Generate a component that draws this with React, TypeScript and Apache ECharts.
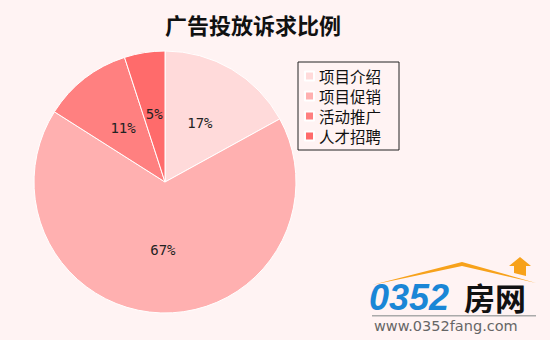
import React, { useEffect, useRef } from "react";
import * as echarts from "echarts";

const titleText = "广告投放诉求比例";
const categories = ["项目介绍", "项目促销", "活动推广", "人才招聘"];
const values = [17, 67, 11, 5];
const colors = ["#ffdada", "#ffb0b0", "#ff8080", "#ff6b6b"];

export default function App() {
  const ref = useRef<HTMLDivElement>(null);
  useEffect(() => {
    if (!ref.current) return;
    const chart = echarts.init(ref.current, null, { renderer: "svg" });
    const font = "'Noto Sans CJK SC', sans-serif";
    chart.setOption({
      animation: false,
      backgroundColor: "#fff3f3",
      title: {
        text: titleText,
        left: 160,
        top: 8,
        textStyle: { fontSize: 22, fontWeight: "bold", color: "#111", fontFamily: font },
      },
      legend: {
        orient: "vertical",
        left: 298,
        top: 62,
        data: categories,
        borderColor: "#222",
        borderWidth: 1,
        padding: [4, 18, 4, 6],
        itemWidth: 9,
        itemHeight: 9,
        itemGap: 0,
        icon: "rect",
        textStyle: { fontSize: 15.5, color: "#111", fontFamily: font, lineHeight: 20, padding: [0, 0, 0, 0] },
      },
      series: [
        {
          type: "pie",
          center: [165, 182],
          radius: 131,
          startAngle: 90,
          clockwise: true,
          color: colors,
          itemStyle: { borderColor: "#ffffff", borderWidth: 1 },
          label: {
            position: "inside",
            formatter: "{d}%",
            fontSize: 14,
            color: "#222",
            fontFamily: "'DejaVu Sans Mono', monospace",
          },
          labelLine: { show: false },
          emphasis: { disabled: true },
          data: categories.map((n, i) => ({ name: n, value: values[i] })),
        },
      ],
      graphic: [
        {
          type: "polygon",
          shape: { points: [[372, 285], [462, 262], [536, 283], [462, 266]] },
          style: { fill: "#f7a21b" },
        },
        {
          type: "polygon",
          shape: { points: [[514, 273], [514, 266], [509, 266], [520, 257], [531, 266], [526, 266], [526, 276]] },
          style: { fill: "#f7a21b" },
        },
        {
          type: "text",
          left: 369,
          top: 279,
          style: {
            text: "0352",
            fontSize: 36,
            fontWeight: "bold",
            fontStyle: "italic",
            fill: "#1a86d6",
            fontFamily: "'Liberation Sans', sans-serif",
          },
        },
        {
          type: "text",
          left: 464,
          top: 281,
          style: {
            text: "房网",
            fontSize: 31,
            fontWeight: "bold",
            fill: "#111",
            fontFamily: font,
          },
        },
        {
          type: "rect",
          shape: { x: 372, y: 315, width: 164, height: 1.5 },
          style: { fill: "#aaaaaa" },
        },
        {
          type: "text",
          left: 374,
          top: 318,
          style: {
            text: "www.0352fang.com",
            fontSize: 14.5,
            fill: "#666",
            fontFamily: "'DejaVu Sans', sans-serif",
          },
        },
      ],
    });
    return () => chart.dispose();
  }, []);
  return <div ref={ref} style={{ width: 550, height: 340, position: "absolute", left: 0, top: 0 }} />;
}
